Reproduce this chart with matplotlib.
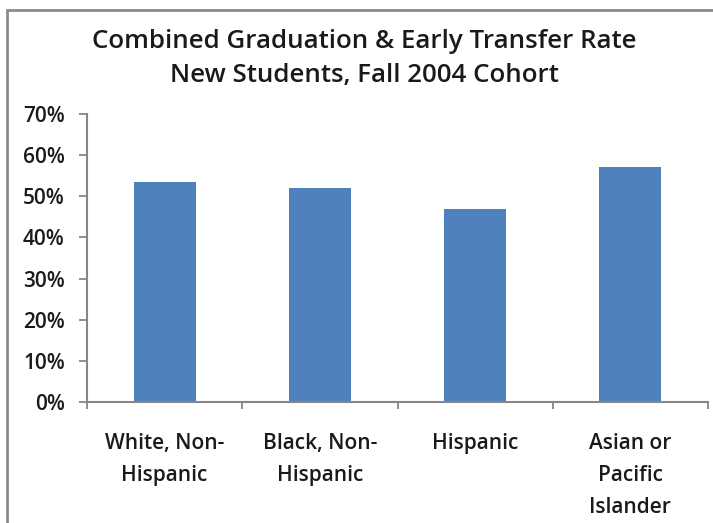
import matplotlib.pyplot as plt
from matplotlib.patches import Rectangle
from matplotlib.ticker import PercentFormatter, FixedLocator
import numpy as np

plt.rcParams['font.family'] = ['Open Sans', 'DejaVu Sans']
plt.rcParams['font.weight'] = 'semibold'

# data
groups = ['White, Non-\nHispanic', 'Black, Non-\nHispanic', 'Hispanic',
          'Asian or\nPacific\nIslander']
rates = [53.5, 52.1, 46.8, 57.0]
title_lines = ['Combined Graduation & Early Transfer Rate',
               'New Students, Fall 2004 Cohort']

W, H = 713, 523
fig = plt.figure(figsize=(W / 100, H / 100), dpi=100)

# outer chart border (Excel style), runs off the right and bottom edges
fig.patches.append(Rectangle((7 / W, -0.1), 1.1, 1 - 10 / H + 0.1,
                             transform=fig.transFigure, fill=False,
                             edgecolor='#8a8a8a', linewidth=2))

ax = fig.add_axes([87 / W, 1 - 402 / H, (708 - 87) / W, (402 - 114) / H])
x = np.arange(len(groups))
ax.bar(x, rates, width=0.4, color='#4f81bd')

ax.set_xlim(-0.5, len(groups) - 0.5)
ax.set_ylim(0, 70)
ax.set_yticks(range(0, 71, 10))
ax.yaxis.set_major_formatter(PercentFormatter(decimals=0))
ax.set_xticks(x)
ax.set_xticklabels(groups, linespacing=1.7, fontsize=15, color='#1a1a1a')
ax.xaxis.set_minor_locator(FixedLocator(np.arange(-0.5, len(groups), 1.0)))

for s in ['top', 'right']:
    ax.spines[s].set_visible(False)
for s in ['left', 'bottom']:
    ax.spines[s].set_color('#868686')
    ax.spines[s].set_linewidth(1.5)

ax.tick_params(axis='x', which='major', length=0, pad=22)
ax.tick_params(axis='x', which='minor', length=5, width=1.3, color='#868686')
ax.tick_params(axis='y', length=6, width=1.3, color='#868686', pad=10,
               labelsize=15, labelcolor='#1a1a1a')

fig.text(364 / W, 1 - 42 / H, title_lines[0], ha='center', va='center',
         fontsize=18.6, color='#1a1a1a')
fig.text(364 / W, 1 - 75 / H, title_lines[1], ha='center', va='center',
         fontsize=18.6, color='#1a1a1a')

fig.savefig('out.png', dpi=100)
